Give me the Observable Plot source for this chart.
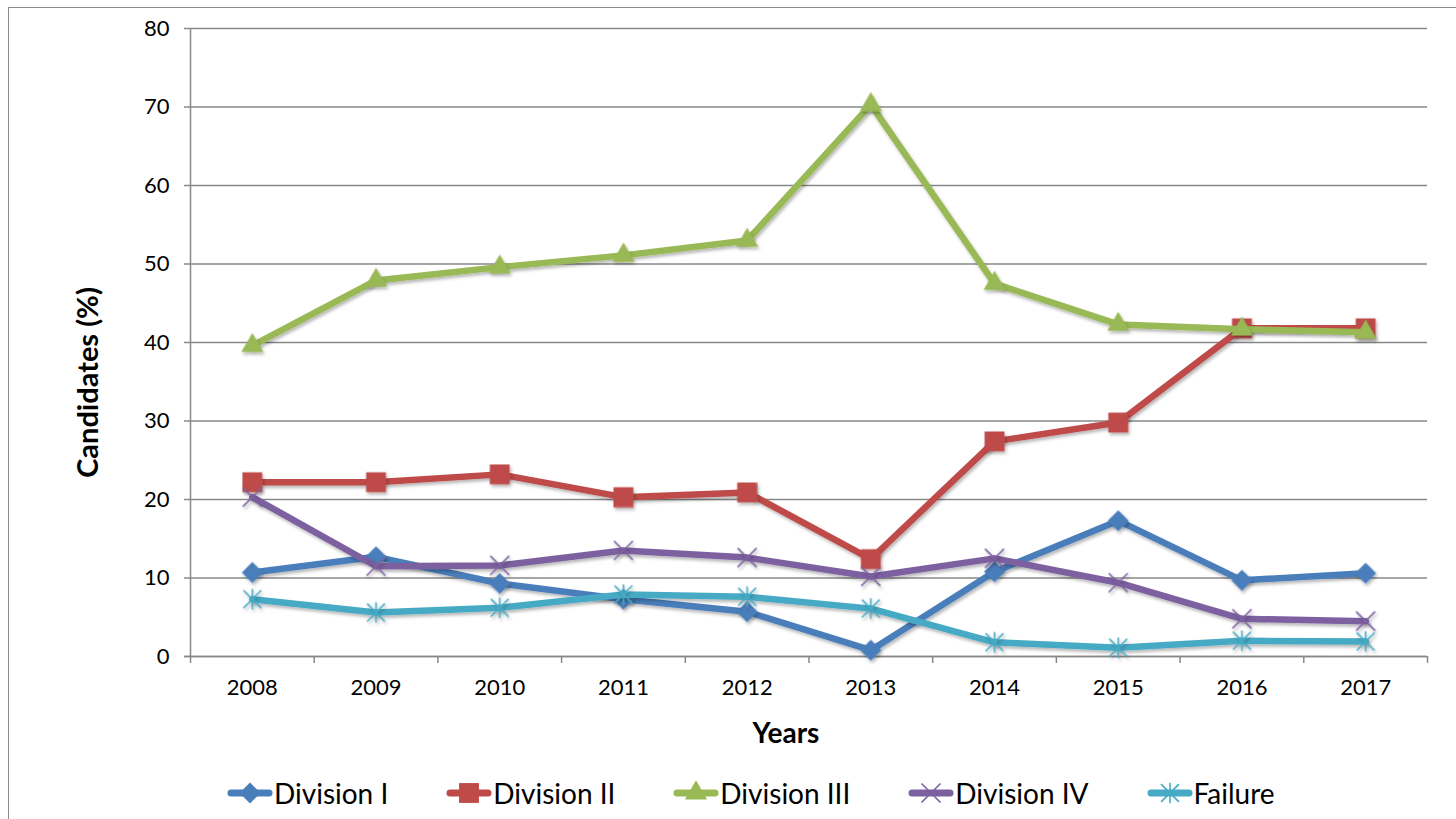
<!DOCTYPE html>
<html><head><meta charset="utf-8">
<script src="https://cdn.jsdelivr.net/npm/d3@7"></script>
<script src="https://cdn.jsdelivr.net/npm/@observablehq/plot@0.6"></script>
<style>
body{margin:0;background:#fff;font-family:Lato,"Open Sans",sans-serif;}
#wrap{position:relative;width:1456px;height:819px;overflow:hidden;background:#fff;}
#frame{position:absolute;left:8px;top:7px;width:1470px;height:830px;border:1.5px solid #8c8c8c;}
#chart{position:absolute;left:0;top:0;}
#legend{position:absolute;left:226px;top:776px;display:flex;gap:57px;align-items:center;font-size:28px;color:#000;}
.item{display:flex;align-items:center;line-height:34px;}
.item svg{display:block;}
</style></head><body>
<div id="wrap"><div id="frame"></div><div id="chart"></div><div id="legend"></div></div>
<script>
const years = [2008, 2009, 2010, 2011, 2012, 2013, 2014, 2015, 2016, 2017];
const divisionI   = [10.7, 12.7, 9.3, 7.3, 5.7, 0.8, 10.8, 17.3, 9.7, 10.6];
const divisionII  = [22.2, 22.2, 23.2, 20.3, 20.9, 12.4, 27.4, 29.8, 41.8, 41.8];
const divisionIII = [39.6, 47.9, 49.6, 51.1, 53.0, 70.3, 47.5, 42.3, 41.7, 41.3];
const divisionIV  = [20.3, 11.5, 11.6, 13.5, 12.6, 10.2, 12.5, 9.4, 4.8, 4.5];
const failure     = [7.3, 5.6, 6.2, 7.9, 7.6, 6.1, 1.8, 1.1, 2.0, 1.9];

const seriesNames   = ["Division I", "Division II", "Division III", "Division IV", "Failure"];
const seriesValues  = [divisionI, divisionII, divisionIII, divisionIV, failure];
const seriesColors  = ["#4a7ebb", "#be4b48", "#98b954", "#7d60a0", "#46aac5"];
const yTicks = [0, 10, 20, 30, 40, 50, 60, 70, 80];
const xTitle = "Years";
const yTitle = "Candidates (%)";

// marker shapes (style)
const starSymbol = {draw(ctx, size) {
  const r = Math.sqrt(size) * 0.56;
  ctx.moveTo(-r, -r); ctx.lineTo(r, r);
  ctx.moveTo(-r, r); ctx.lineTo(r, -r);
  ctx.moveTo(0, -r * 1.15); ctx.lineTo(0, r * 1.15);
}};
const seriesSymbols = ["diamond2", "square", "triangle", "times", starSymbol];
const symbolStroked = [false, false, false, true, true];
const seriesRadius  = [9.5, 11.2, 8.2, 8.7, 9.0];
const d3Symbols = {diamond2: d3.symbolDiamond2, square: d3.symbolSquare, triangle: d3.symbolTriangle, times: d3.symbolTimes};

const gridColor = "#888888";
const bounds = [years[0] - 0.5, ...years.map(y => y + 0.5)];

const seriesMarks = seriesNames.flatMap((name, i) => {
  const rows = years.map((year, j) => ({year, value: seriesValues[i][j], series: name}));
  return [
    Plot.line(rows, {x: "year", y: "value", stroke: seriesColors[i], strokeWidth: 6.5, strokeLinejoin: "round", strokeLinecap: "round"}),
    Plot.dot(rows, symbolStroked[i]
      ? {x: "year", y: "value", symbol: seriesSymbols[i], r: seriesRadius[i], stroke: seriesColors[i], strokeWidth: 1.6, fill: "none"}
      : {x: "year", y: "value", symbol: seriesSymbols[i], r: seriesRadius[i], fill: seriesColors[i], stroke: "none"})
  ];
});

const plot = Plot.plot({
  width: 1456,
  height: 760,
  marginLeft: 190,
  marginRight: 29,
  marginTop: 28,
  marginBottom: 104,
  x: {type: "linear", domain: [bounds[0], bounds[bounds.length - 1]]},
  y: {type: "linear", domain: [0, 80]},
  style: {fontFamily: "Lato, 'Open Sans', sans-serif", background: "transparent", overflow: "visible", color: "#000"},
  marks: [
    Plot.gridY(yTicks, {stroke: gridColor, strokeOpacity: 1, strokeWidth: 1.5}),
    Plot.ruleY([0], {stroke: gridColor, strokeWidth: 1.5, insetLeft: -6}),
    Plot.ruleX([bounds[0]], {stroke: gridColor, strokeWidth: 1.5}),
    Plot.axisY(yTicks, {tickSize: 6, tickPadding: 15, stroke: gridColor, strokeWidth: 1.5, fill: "#000", fontSize: 22, label: null, tickFormat: d => String(d)}),
    Plot.axisX(bounds, {tickSize: 7, stroke: gridColor, strokeWidth: 1.5, tickFormat: () => "", label: null}),
    Plot.axisX(years, {tickSize: 0, tickPadding: 23, fill: "#000", fontSize: 22, label: null, tickFormat: d => String(d)}),
    ...seriesMarks,
    Plot.text([xTitle], {text: d => d, frameAnchor: "bottom", dy: 86, dx: -23, fontSize: 28, fontWeight: "bold", fill: "#000"}),
    Plot.text([yTitle], {text: d => d, frameAnchor: "left", textAnchor: "middle", rotate: -90, dx: -102, dy: 40, fontSize: 29, fontWeight: "bold", fill: "#000"})
  ]
});

// subtle drop shadow on series, like the original
const svg = d3.select(plot);
svg.insert("defs", ":first-child").html('<filter id="sh" x="-20%" y="-20%" width="140%" height="140%"><feDropShadow dx="1.5" dy="2.5" stdDeviation="1.5" flood-color="#000" flood-opacity="0.28"/></filter>');
svg.selectAll('g[aria-label="line"], g[aria-label="dot"]').attr("filter", "url(#sh)");

document.getElementById("chart").appendChild(plot);

// legend
const legend = d3.select("#legend");
seriesNames.forEach((name, i) => {
  const item = legend.append("div").attr("class", "item");
  const s = item.append("svg").attr("width", 48).attr("height", 30);
  s.append("line").attr("x1", 5).attr("x2", 43).attr("y1", 15).attr("y2", 15)
    .attr("stroke", seriesColors[i]).attr("stroke-width", 7).attr("stroke-linecap", "round");
  const r = seriesRadius[i];
  const type = typeof seriesSymbols[i] === "string" ? d3Symbols[seriesSymbols[i]] : seriesSymbols[i];
  s.append("path").attr("transform", "translate(24,15)")
    .attr("d", d3.symbol(type, Math.PI * r * r)())
    .attr("fill", symbolStroked[i] ? "none" : seriesColors[i])
    .attr("stroke", symbolStroked[i] ? seriesColors[i] : "none")
    .attr("stroke-width", 1.6);
  item.append("span").text(name);
});
</script>
</body></html>
